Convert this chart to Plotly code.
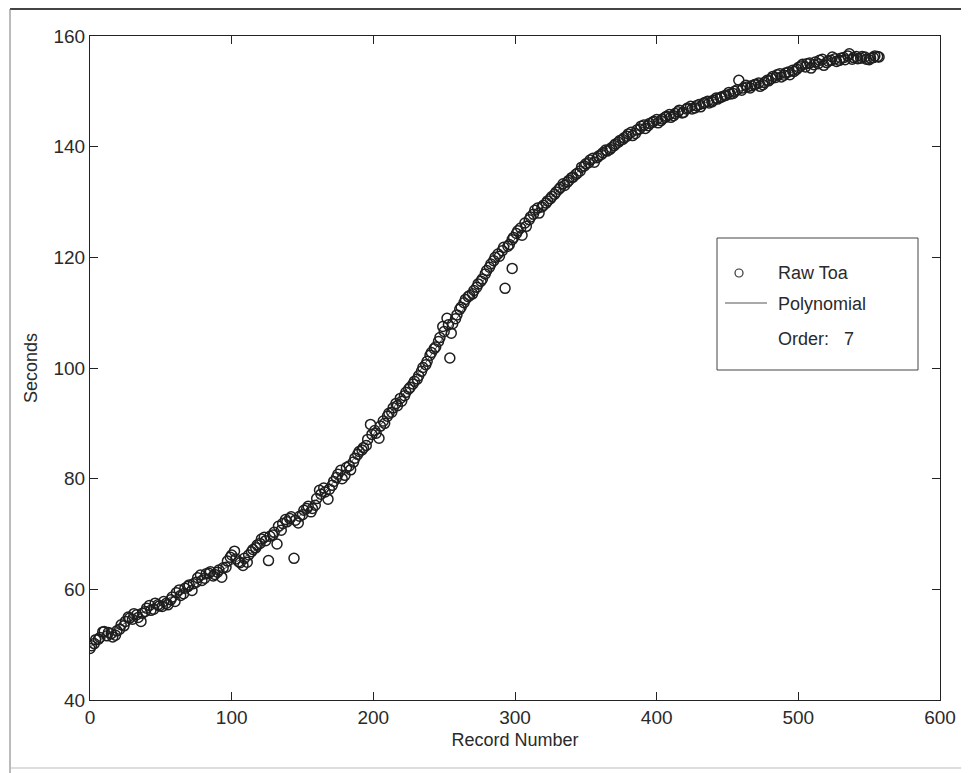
import numpy as np
import plotly.graph_objects as go

record_number = [
    0, 3, 6, 9, 12, 15, 18, 21, 24, 27, 30, 33, 36, 39, 42, 45, 48, 51, 54, 57,
    60, 63, 66, 69, 72, 75, 78, 81, 84, 87, 90, 93, 96, 99, 102, 105, 108, 111, 114, 117,
    120, 123, 126, 129, 132, 135, 138, 141, 144, 147, 150, 153, 156, 159, 162, 165, 168, 171, 174, 177,
    180, 183, 186, 189, 192, 195, 198, 201, 204, 207, 210, 213, 216, 219, 222, 225, 228, 231, 234, 237,
    240, 243, 246, 249, 252, 254, 255, 258, 261, 264, 267, 270, 273, 276, 279, 282, 285, 288, 291, 293,
    296, 298, 299, 302, 305, 308, 311, 314, 317, 320, 323, 326, 329, 332, 335, 338, 341, 344, 347, 350,
    353, 356, 359, 362, 365, 368, 371, 374, 377, 380, 383, 386, 389, 392, 395, 398, 401, 404, 407, 410,
    413, 416, 419, 422, 425, 428, 431, 434, 437, 440, 443, 446, 449, 452, 455, 458, 461, 464, 467, 470,
    473, 476, 479, 482, 485, 488, 491, 494, 497, 500, 503, 506, 509, 512, 515, 518, 521, 524, 527, 530,
    533, 536, 539, 542, 545, 548, 551, 554, 557,
]
raw_toa_seconds = [
    49.3, 50.2, 51.0, 52.3, 51.6, 52.0, 51.7, 52.8, 53.4, 55.0, 54.6, 55.4, 54.2, 56.0, 57.1, 56.4, 57.2, 56.9, 57.5, 58.1,
    57.8, 59.9, 59.2, 60.5, 59.8, 61.3, 62.6, 62.0, 62.9, 62.4, 63.1, 62.2, 64.0, 65.8, 66.9, 65.0, 64.3, 64.9, 66.8, 67.5,
    68.3, 69.4, 65.2, 69.8, 68.2, 70.7, 72.6, 72.8, 65.6, 72.0, 73.5, 74.6, 74.0, 75.2, 77.9, 78.3, 76.3, 78.8, 80.2, 81.5,
    80.6, 82.3, 83.0, 84.4, 85.2, 86.0, 89.8, 88.7, 87.3, 90.4, 91.3, 92.0, 93.6, 94.5, 95.0, 96.2, 97.1, 98.0, 99.4, 100.6,
    102.3, 103.5, 104.8, 107.5, 109.0, 101.8, 106.3, 108.9, 110.6, 111.8, 112.9, 113.4, 114.6, 115.7, 117.0, 118.2, 119.4, 120.6, 121.2, 114.4,
    122.3, 118.0, 123.6, 124.8, 124.0, 125.6, 127.3, 128.5, 128.0, 129.4, 130.2, 131.0, 131.8, 132.6, 133.0, 133.9, 134.5, 135.2, 136.3, 136.9,
    137.6, 137.2, 138.3, 138.9, 139.2, 139.8, 140.5, 141.1, 141.6, 142.3, 142.0, 143.0, 143.7, 143.3, 144.2, 144.6, 144.3, 145.0, 145.5, 145.3,
    146.0, 146.6, 146.2, 147.0, 146.8, 147.4, 147.2, 148.0, 147.9, 148.4, 148.6, 149.0, 149.3, 149.5, 150.0, 152.0, 150.6, 150.8, 151.0, 151.3,
    150.9, 151.6, 151.9, 152.7, 153.0, 152.6, 153.3, 153.0, 153.6, 154.3, 154.9, 155.0, 154.2, 155.3, 155.6, 154.7, 155.5, 156.2, 155.4, 156.0,
    155.7, 156.8, 156.1, 155.9, 156.3, 155.8, 156.0, 156.4, 156.2,
]
record_number_b = [
    1, 4, 7, 10, 13, 16, 19, 22, 25, 28, 31, 34, 37, 40, 43, 46, 49, 52, 55, 58,
    61, 64, 67, 70, 73, 76, 79, 82, 85, 88, 91, 94, 97, 100, 103, 106, 109, 112, 115, 118,
    121, 124, 127, 130, 133, 136, 139, 142, 145, 148, 151, 154, 157, 160, 163, 166, 169, 172, 175, 178,
    181, 184, 187, 190, 193, 196, 199, 202, 205, 208, 211, 214, 217, 220, 223, 226, 229, 232, 235, 238,
    241, 244, 247, 250, 253, 256, 259, 262, 265, 268, 271, 274, 277, 280, 283, 286, 289, 292, 295, 298,
    301, 304, 307, 310, 313, 316, 319, 322, 325, 328, 331, 334, 337, 340, 343, 346, 349, 352, 355, 358,
    361, 364, 367, 370, 373, 376, 379, 382, 385, 388, 391, 394, 397, 400, 403, 406, 409, 412, 415, 418,
    421, 424, 427, 430, 433, 436, 439, 442, 445, 448, 451, 454, 457, 460, 463, 466, 469, 472, 475, 478,
    481, 484, 487, 490, 493, 496, 499, 502, 505, 508, 511, 514, 517, 520, 523, 526, 529, 532, 535, 538,
    541, 544, 547, 550, 553, 556,
]
raw_toa_seconds_b = [
    49.8, 50.9, 51.3, 52.4, 52.2, 51.4, 52.5, 53.6, 54.2, 54.8, 55.6, 54.9, 55.7, 56.6, 56.2, 57.5, 57.0, 57.8, 57.2, 58.6,
    59.4, 58.9, 60.2, 60.8, 61.0, 62.1, 61.6, 62.8, 63.2, 62.7, 63.5, 63.9, 65.1, 66.2, 65.5, 64.8, 65.6, 66.2, 67.2, 68.0,
    69.1, 68.8, 69.6, 70.3, 71.4, 71.9, 72.2, 73.1, 72.5, 73.2, 74.3, 75.0, 74.6, 76.4, 77.2, 77.6, 78.1, 79.5, 80.8, 80.0,
    82.0, 81.6, 83.7, 84.9, 85.6, 87.1, 88.0, 88.2, 89.5, 90.0, 91.8, 92.8, 93.2, 94.0, 95.6, 96.5, 97.6, 98.6, 100.1, 101.2,
    102.8, 103.8, 105.5, 106.6, 107.8, 108.0, 109.6, 111.0, 112.4, 113.1, 114.0, 115.2, 116.1, 117.6, 118.8, 120.0, 120.2, 121.8, 122.0, 123.2,
    124.3, 125.3, 126.2, 126.8, 127.8, 128.9, 129.1, 129.8, 130.6, 131.4, 132.3, 133.3, 133.6, 134.4, 135.0, 135.6, 136.5, 137.1, 137.9, 138.0,
    138.6, 139.4, 139.5, 140.2, 140.8, 141.3, 141.9, 142.6, 142.4, 143.2, 143.9, 143.8, 144.4, 144.9, 144.7, 145.3, 145.8, 145.6, 146.3, 146.1,
    146.8, 147.3, 147.0, 147.6, 147.8, 148.2, 148.1, 148.8, 148.9, 149.2, 149.8, 149.6, 150.3, 150.2, 151.1, 150.6, 151.2, 151.5, 151.2, 152.0,
    152.3, 152.5, 153.2, 152.9, 153.5, 153.8, 154.0, 154.6, 154.4, 155.1, 154.8, 155.0, 155.8, 155.2, 155.6, 155.9, 155.6, 156.1, 156.4, 155.8,
    156.3, 156.0, 156.2, 155.7, 156.1, 156.3,
]
x_ticks = [0, 100, 200, 300, 400, 500, 600]
y_ticks = [40, 60, 80, 100, 120, 140, 160]
poly_order = 7

all_x = record_number + record_number_b
all_y = raw_toa_seconds + raw_toa_seconds_b
order = np.argsort(all_x, kind="stable")
xa = np.array(all_x, dtype=float)[order]
ya = np.array(all_y, dtype=float)[order]
xm, xs = xa.mean(), xa.std()
coef = np.polyfit((xa - xm) / xs, ya, poly_order)
fit_y = np.polyval(coef, (xa - xm) / xs)

FONT = "Liberation Sans, Arial, Helvetica, sans-serif"
TXT = "#2a2a2a"

fig = go.Figure()
fig.add_trace(go.Scatter(
    x=xa, y=fit_y, mode="lines",
    line=dict(color="#555555", width=1), showlegend=False, name="Polynomial"))
fig.add_trace(go.Scatter(
    x=xa, y=ya, mode="markers",
    marker=dict(symbol="circle-open", size=10, color="#1e1e1e", line=dict(width=1.5)),
    showlegend=False, name="Raw Toa"))

# page has an 8px body margin; figure is sized to fit the 969x773 window
OFF = 8
W, H = 969 - OFF, 773 - OFF
L, R, T, B = 82, 29, 28, 73
pw, ph = W - L - R, H - T - B


def px(xp):
    # page pixel x -> paper fraction
    return (xp - OFF - L) / pw


def py(yp):
    # page pixel y -> paper fraction
    return (H - B - (yp - OFF)) / ph


shapes = [
    # scanned page frame
    dict(type="line", xref="paper", yref="paper", x0=px(10), x1=px(969), y0=py(9), y1=py(9),
         line=dict(color="#444444", width=2)),
    dict(type="line", xref="paper", yref="paper", x0=px(10), x1=px(10), y0=py(9), y1=py(773),
         line=dict(color="#777777", width=1)),
    dict(type="line", xref="paper", yref="paper", x0=px(963), x1=px(963), y0=py(9), y1=py(773),
         line=dict(color="#888888", width=1)),
    dict(type="line", xref="paper", yref="paper", x0=px(10), x1=px(969), y0=py(768), y1=py(768),
         line=dict(color="#bbbbbb", width=1)),
    # legend box
    dict(type="rect", xref="paper", yref="paper", x0=px(717), x1=px(918), y0=py(370), y1=py(238),
         line=dict(color="#444444", width=1), fillcolor="white"),
    dict(type="circle", xref="paper", yref="paper", x0=px(735), x1=px(743), y0=py(277), y1=py(269),
         line=dict(color="#333333", width=1.2)),
    dict(type="line", xref="paper", yref="paper", x0=px(725), x1=px(767), y0=py(303), y1=py(303),
         line=dict(color="#555555", width=1)),
]

annotations = [
    dict(xref="paper", yref="paper", x=px(776), y=py(273), text="Raw Toa", showarrow=False,
         xanchor="left", yanchor="middle", font=dict(family=FONT, size=18, color=TXT)),
    dict(xref="paper", yref="paper", x=px(776), y=py(304), text="Polynomial", showarrow=False,
         xanchor="left", yanchor="middle", font=dict(family=FONT, size=18, color=TXT)),
    dict(xref="paper", yref="paper", x=px(776), y=py(339), text=f"Order:   {poly_order}", showarrow=False,
         xanchor="left", yanchor="middle", font=dict(family=FONT, size=18, color=TXT)),
]

axis_common = dict(
    showline=True, linecolor="#222222", linewidth=1.2, mirror="allticks",
    ticks="inside", ticklen=8, tickcolor="#222222", tickwidth=1,
    showgrid=False, zeroline=False,
    tickfont=dict(family=FONT, size=19, color=TXT),
)

fig.update_layout(
    width=W, height=H,
    margin=dict(l=L, r=R, t=T, b=B, autoexpand=False),
    paper_bgcolor="white", plot_bgcolor="white",
    shapes=shapes, annotations=annotations,
    xaxis=dict(range=[0, 600], tickvals=x_ticks, ticktext=[str(v) for v in x_ticks],
               title=dict(text="Record Number", standoff=6,
                          font=dict(family=FONT, size=18, color=TXT)),
               **axis_common),
    yaxis=dict(range=[40, 160], tickvals=y_ticks, ticktext=[str(v) for v in y_ticks],
               title=dict(text="Seconds", standoff=11,
                          font=dict(family=FONT, size=18, color=TXT)),
               **axis_common),
)

fig.write_html("out.html")
